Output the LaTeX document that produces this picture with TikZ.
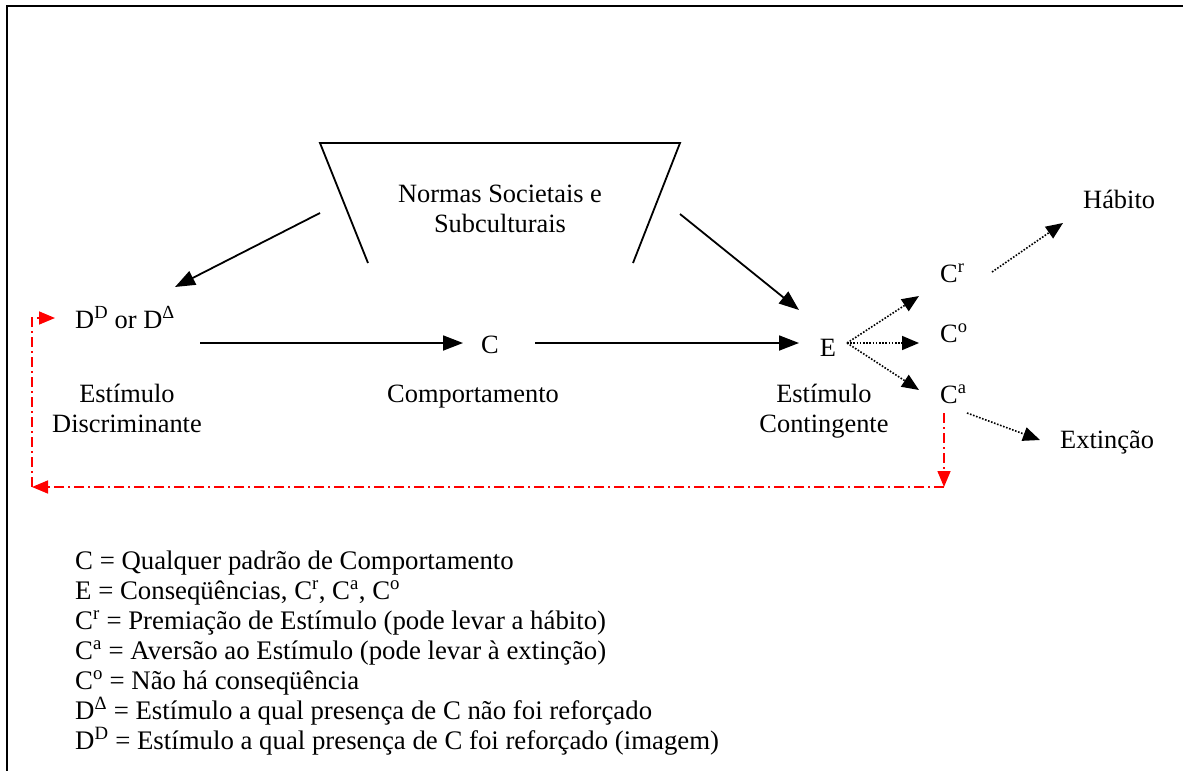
\documentclass[tikz,border=0pt]{standalone}
\usepackage{fontspec}
\setmainfont{Liberation Serif}
\usetikzlibrary{arrows.meta}
\begin{document}
\begin{tikzpicture}[x=1pt,y=-1pt,
  every node/.style={inner sep=0pt, font=\fontsize{26.4}{30}\selectfont},
  lbl/.style={anchor=base, align=center},
  lblw/.style={anchor=base west},
  legend/.style={anchor=base west, font=\fontsize{26.8}{30}\selectfont},
  frameline/.style={line width=2pt},
  solidarrow/.style={line width=1.8pt, -{Triangle[length=20pt,width=15pt]}},
  dotarrow/.style={line width=1.6pt, dash pattern=on 1.6pt off 1.6pt, -{Triangle[length=17pt,width=14pt]}},
  redarrow/.style={color=red, line width=1.6pt, dash pattern=on 10pt off 4pt on 2pt off 4pt, -{Triangle[length=16pt,width=13pt]}}]
\useasboundingbox (0,0) rectangle (1183,771);

% frame
\draw[frameline] (1183,6) -- (7,6) -- (7,771);

% trapezoid (open at bottom)
\draw[line width=1.8pt] (368,263) -- (320,143) -- (680,143) -- (633,263);
\node[lbl] (norms) at (500,232) {Normas Societais e\\Subculturais};

% main nodes
\node[lblw] (D) at (75,328) {D\textsuperscript{D} or D\textsuperscript{Δ}};
\node[lbl] (Dlab) at (127,432) {Estímulo\\Discriminante};
\node[lbl] (C) at (490,353) {C};
\node[lbl] (Clab) at (473,402) {Comportamento};
\node[lbl] (E) at (828,356) {E};
\node[lbl] (Elab) at (824,432) {Estímulo\\Contingente};
\node[lblw] (Cr) at (940,282) {C\textsuperscript{r}};
\node[lblw] (Co) at (940,342) {C\textsuperscript{o}};
\node[lblw] (Ca) at (940,403) {C\textsuperscript{a}};
\node[lblw] (hab) at (1083,208) {Hábito};
\node[lblw] (ext) at (1060,448) {Extinção};

% connector end points
\coordinate (nL) at (320,213);
\coordinate (nR) at (680,214);
\coordinate (Din) at (175,287);
\coordinate (Dout) at (200,343);
\coordinate (Cin) at (463,343);
\coordinate (Cout) at (535,343);
\coordinate (Ein) at (799,343);
\coordinate (Eintop) at (799,310);
\coordinate (Eout) at (847,343);
\coordinate (Crin) at (919,296);
\coordinate (Coin) at (919,343);
\coordinate (Cain) at (919,390);
\coordinate (Crout) at (992,272);
\coordinate (habin) at (1063,223);
\coordinate (Caout) at (967,413);
\coordinate (extin) at (1040,440);
\coordinate (Cadown) at (944,413);
\coordinate (cornR) at (944,487);
\coordinate (cornL) at (32,487);
\coordinate (cornUL) at (32,318);
\coordinate (Dred) at (55,318);

% solid arrows
\draw[solidarrow] (nL) -- (Din);
\draw[solidarrow] (nR) -- (Eintop);
\draw[solidarrow] (Dout) -- (Cin);
\draw[solidarrow] (Cout) -- (Ein);

% dotted arrows
\draw[dotarrow] (Eout) -- (Crin);
\draw[dotarrow] (Eout) -- (Coin);
\draw[dotarrow] (Eout) -- (Cain);
\draw[dotarrow] (Crout) -- (habin);
\draw[dotarrow] (Caout) -- (extin);

% red feedback
\draw[redarrow] (Cadown) -- (cornR);
\draw[redarrow] (cornR) -- (cornL);
\draw[redarrow] (cornL) -- (cornUL) -- (Dred);

% legend
\node[legend] (L1) at (75,569) {C = Qualquer padrão de Comportamento};
\node[legend] (L2) at (75,599) {E = Conseqüências, C\textsuperscript{r}, C\textsuperscript{a}, C\textsuperscript{o}};
\node[legend] (L3) at (75,629) {C\textsuperscript{r} = Premiação de Estímulo (pode levar a hábito)};
\node[legend] (L4) at (75,659) {C\textsuperscript{a} = Aversão ao Estímulo (pode levar à extinção)};
\node[legend] (L5) at (75,689) {C\textsuperscript{o} = Não há conseqüência};
\node[legend] (L6) at (75,719) {D\textsuperscript{Δ} = Estímulo a qual presença de C não foi reforçado};
\node[legend] (L7) at (75,749) {D\textsuperscript{D} = Estímulo a qual presença de C foi reforçado (imagem)};
\end{tikzpicture}
\end{document}
